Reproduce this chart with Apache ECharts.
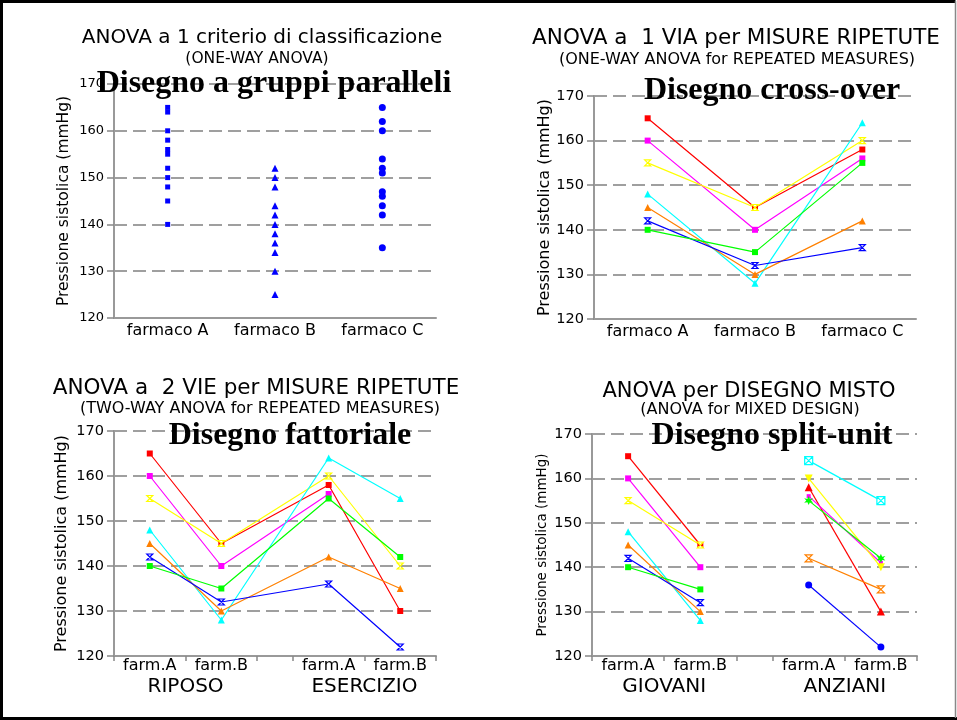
<!DOCTYPE html>
<html>
<head>
<meta charset="utf-8">
<title>ANOVA disegni</title>
<script src="https://cdn.jsdelivr.net/npm/echarts@6.0.0/dist/echarts.min.js"></script>
<style>
  html, body { margin: 0; padding: 0; background: #fff; }
  #chart { width: 957px; height: 720px; }
</style>
</head>
<body>
<div id="chart"></div>
<script>
// --- data (mmHg) ---
// panel 1: parallel groups
const groupA = [165, 164, 160, 158, 156, 155, 152, 150, 148, 145, 140];
const groupB = [152, 150, 148, 144, 142, 140, 138, 136, 134, 130, 125];
const groupC = [165, 162, 160, 154, 152, 151, 147, 146, 144, 142, 135];
const farmaci = ['farmaco A', 'farmaco B', 'farmaco C'];

// subjects: red, magenta, yellow, cyan, orange, blue, green
const subjColors = ['#ff0000', '#ff00ff', '#ffff00', '#00ffff', '#ff8000', '#0000ff', '#00ff00'];
const farmA = [165, 160, 155, 148, 145, 142, 140];
const farmB = [145, 140, 145, 128, 130, 132, 135];
const farmC = [158, 156, 160, 164, 142, 136, 155];
// panel 3: farm.B under exercise (magenta missing)
const esercB = [130, null, 140, 155, 135, 122, 142];
// panel 4: elderly group, farm.B
const anzB = [130, 141, 140, 155, 135, 122, 142];

// split x axis for panels 3-4
const subPos = [1, 3, 6, 8];
const subLabels = ['farm.A', 'farm.B', 'farm.A', 'farm.B'];
const subTicks = [0, 2, 4, 5, 7, 9];
const groupPos = [2, 7];
const labels3 = ['RIPOSO', 'ESERCIZIO'];
const labels4 = ['GIOVANI', 'ANZIANI'];

const SANS = 'DejaVu Sans, Verdana, sans-serif';
const SERIF = 'Liberation Serif, Times New Roman, serif';
const HOURGLASS = 'path://M0,0L10,0L0,10L10,10Z';
const BOXX = 'path://M0,0L10,0L10,10L0,10ZM0,0L10,10M10,0L0,10';
const STAR = 'path://M5,0L6.3,3.2L9.6,2.5L7.4,5L9.6,7.5L6.3,6.8L5,10L3.7,6.8L0.4,7.5L2.6,5L0.4,2.5L3.7,3.2Z';
const DOWNTRI = 'path://M0,0L10,0L5,9Z';

// markers per subject
const symA = ['rect', 'rect', HOURGLASS, 'triangle', 'triangle', HOURGLASS, 'rect'];
const symAnz = ['triangle', 'rect', DOWNTRI, BOXX, HOURGLASS, 'circle', STAR];
const sizeAnz = [8, 4, 8, 8, 7, 7, 9];

function marker(sym, c) {
    if (sym === HOURGLASS || sym === BOXX) {
        return {color: '#fff', borderColor: c, borderWidth: 1.2, opacity: 1};
    }
    return {color: c, opacity: 1};
}

function titleAt(text, x, y, size) {
    return {
        text: text, left: x, top: y, textAlign: 'center', padding: 0,
        textStyle: {fontFamily: SANS, fontWeight: 'normal', fontSize: size, color: '#000'}
    };
}

function bigTitle(text, x, y) {
    return {
        text: text, left: x, top: y, textAlign: 'center', padding: 0,
        textStyle: {fontFamily: SERIF, fontWeight: 'bold', fontSize: 32, color: '#000'}
    };
}

function yAxisFor(gi, nameSize, labelSize, gap) {
    return {
        type: 'value', gridIndex: gi, min: 120, max: 170, interval: 10,
        name: 'Pressione sistolica (mmHg)', nameLocation: 'middle', nameGap: gap,
        nameTextStyle: {fontFamily: SANS, fontSize: nameSize, color: '#000'},
        axisLine: {show: true, lineStyle: {color: '#999', width: 2}},
        axisTick: {show: true, length: 7, lineStyle: {color: '#888', width: 1.5}},
        axisLabel: {fontFamily: SANS, fontSize: labelSize, color: '#000', margin: 10},
        splitLine: {show: true, lineStyle: {color: '#808080', width: 1.5, type: [13, 6]}}
    };
}

function catAxis(gi) {
    return {
        type: 'category', gridIndex: gi, data: farmaci, boundaryGap: true,
        axisLine: {lineStyle: {color: '#999', width: 2}},
        axisTick: {length: 5, lineStyle: {color: '#888', width: 1.5}},
        axisLabel: {fontFamily: SANS, fontSize: 16, color: '#000', margin: 5}
    };
}

function splitAxis(gi) {
    return {
        type: 'value', gridIndex: gi, min: 0, max: 9,
        axisLine: {lineStyle: {color: '#999', width: 2}},
        axisTick: {show: true, length: 5, customValues: subTicks, lineStyle: {color: '#888', width: 1.5}},
        axisLabel: {
            fontFamily: SANS, fontSize: 16, color: '#000', margin: 2,
            customValues: subPos,
            formatter: function (v) { return subLabels[subPos.indexOf(v)]; }
        },
        splitLine: {show: false}
    };
}

function groupAxis(gi, names) {
    return {
        type: 'value', gridIndex: gi, min: 0, max: 9, position: 'bottom',
        axisLine: {show: false}, axisTick: {show: false}, splitLine: {show: false},
        axisLabel: {
            fontFamily: SANS, fontSize: 20, color: '#000', margin: 21,
            customValues: groupPos,
            formatter: function (v) { return names[groupPos.indexOf(v)]; }
        }
    };
}

function lineSeries(xi, points, sym, size, c) {
    return {
        type: 'line', xAxisIndex: xi, yAxisIndex: xi === 1 ? 1 : (xi === 2 ? 2 : 3),
        data: points, symbol: sym, symbolSize: size,
        lineStyle: {color: c, width: 1.2},
        itemStyle: marker(sym, c),
        animation: false
    };
}

let series = [];

// panel 1
[groupA, groupB, groupC].forEach(function (g, k) {
    series.push({
        type: 'scatter', xAxisIndex: 0, yAxisIndex: 0,
        data: g.map(function (v) { return [k, v]; }),
        symbol: ['rect', 'triangle', 'circle'][k],
        symbolSize: [5, 7, 7][k],
        itemStyle: {color: '#0000ff', opacity: 1}
    });
});

for (let i = 0; i < subjColors.length; i++) {
    let c = subjColors[i];
    let sizeA = symA[i] === 'triangle' ? 7 : 6;
    // panel 2
    series.push(lineSeries(1, [farmA[i], farmB[i], farmC[i]], symA[i], sizeA, c));
    // panel 3
    let vals = [farmA[i], farmB[i], farmC[i], esercB[i]];
    let pts = [];
    vals.forEach(function (v, k) { if (v !== null) pts.push([subPos[k], v]); });
    series.push(lineSeries(2, pts, symA[i], sizeA, c));
    // panel 4: young and elderly groups
    series.push(lineSeries(4, [[subPos[0], farmA[i]], [subPos[1], farmB[i]]], symA[i], sizeA, c));
    series.push(lineSeries(4, [[subPos[2], farmC[i]], [subPos[3], anzB[i]]], symAnz[i], sizeAnz[i], c));
}

let chart = echarts.init(document.getElementById('chart'));
let option = {
    backgroundColor: '#fff',
    animation: false,
    title: [
        titleAt('ANOVA a 1 criterio di classificazione', 262, 28, 20),
        titleAt('(ONE-WAY ANOVA)', 257, 51, 15.5),
        bigTitle('Disegno a gruppi paralleli', 274, 68),
        titleAt('ANOVA a  1 VIA per MISURE RIPETUTE', 736, 27, 21.5),
        titleAt('(ONE-WAY ANOVA for REPEATED MEASURES)', 737, 52, 16),
        bigTitle('Disegno cross-over', 772, 75),
        titleAt('ANOVA a  2 VIE per MISURE RIPETUTE', 256, 377, 21.5),
        titleAt('(TWO-WAY ANOVA for REPEATED MEASURES)', 260, 401, 16),
        bigTitle('Disegno fattoriale', 290, 420),
        titleAt('ANOVA per DISEGNO MISTO', 749, 381, 21),
        titleAt('(ANOVA for MIXED DESIGN)', 750, 402, 16),
        bigTitle('Disegno split-unit', 772, 420)
    ],
    grid: [
        {left: 114, top: 84, width: 322, height: 234},
        {left: 594, top: 96, width: 322, height: 223},
        {left: 114, top: 431, width: 322, height: 225},
        {left: 592, top: 434, width: 325, height: 222}
    ],
    xAxis: [
        catAxis(0),
        catAxis(1),
        splitAxis(2),
        groupAxis(2, labels3),
        splitAxis(3),
        groupAxis(3, labels4)
    ],
    yAxis: [
        yAxisFor(0, 15.5, 13, 42),
        yAxisFor(1, 16, 14.5, 41),
        yAxisFor(2, 16, 14.5, 44),
        yAxisFor(3, 13.5, 14.5, 43)
    ],
    graphic: [
        {type: 'polyline', shape: {points: [[1.5, 718.5], [1.5, 1.5], [955.5, 1.5]]}, style: {stroke: '#000', lineWidth: 3, fill: null}},
        {type: 'line', shape: {x1: 0, y1: 718.5, x2: 957, y2: 718.5}, style: {stroke: '#000', lineWidth: 3}},
        {type: 'line', shape: {x1: 955.5, y1: 1, x2: 955.5, y2: 718}, style: {stroke: '#888', lineWidth: 1.5}}
    ],
    series: series
};
chart.setOption(option);
</script>
</body>
</html>
